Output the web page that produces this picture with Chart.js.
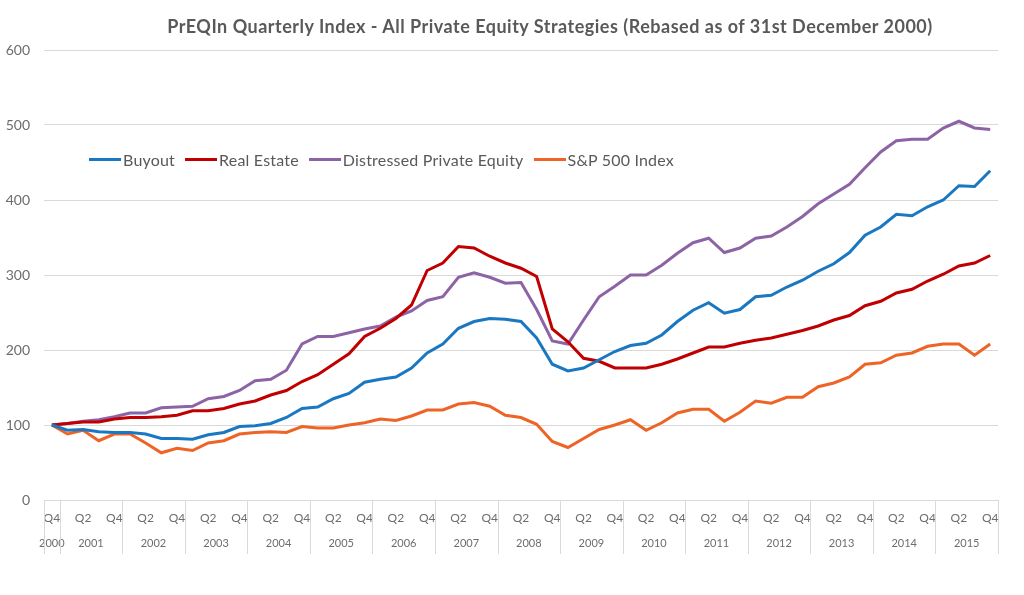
<!DOCTYPE html>
<html>
<head>
<meta charset="utf-8">
<script src="https://cdn.jsdelivr.net/npm/chart.js@4.4.1/dist/chart.umd.min.js"></script>
<style>
  body { margin: 0; background: #fff; }
  #wrap { position: relative; width: 1024px; height: 595px; font-family: Lato, sans-serif; }
  #title { position: absolute; left: 0; width: 1100px; top: 15px; text-align: center;
           font-weight: bold; font-size: 18px; letter-spacing: 0.5px; color: #595959; }
  #legend { position: absolute; left: 89px; top: 150px; display: flex; align-items: center;
            font-size: 16px; letter-spacing: 0.2px; color: #595959; }
  #legend span.item { display: flex; align-items: center; margin-right: 10px; }
  #legend i { display: inline-block; width: 32px; height: 3px; margin-right: 2px; }
</style>
</head>
<body>
<div id="wrap">
  <canvas id="chart" width="1024" height="595"></canvas>
  <div id="title">PrEQIn Quarterly Index - All Private Equity Strategies (Rebased as of 31st December 2000)</div>
  <div id="legend"></div>
</div>
<script>
// quarters Q4 2000 .. Q4 2015
const years = ['2000', '2001', '2002', '2003', '2004', '2005', '2006', '2007',
               '2008', '2009', '2010', '2011', '2012', '2013', '2014', '2015'];
const quarterNames = ['Q1', 'Q2', 'Q3', 'Q4'];
const yTicks = [0, 100, 200, 300, 400, 500, 600];

const buyout = [100, 93, 94, 91, 90, 90, 88, 82, 82, 81, 87, 90, 98, 99, 102, 110, 122, 124, 135, 142,
  157, 161, 164, 176, 196, 208, 229, 238, 242, 241, 238, 216, 181, 172, 176, 187, 198, 206, 209, 220,
  238, 253, 263, 249, 254, 271, 273, 284, 293, 305, 315, 330, 353, 364, 381, 379, 391, 400, 419, 418, 439];
const realEstate = [100, 102, 104, 104, 108, 110, 110, 111, 113, 119, 119, 122, 128, 132, 140, 146, 158, 167, 181, 195,
  218, 229, 242, 260, 306, 316, 338, 336, 325, 316, 309, 298, 228, 211, 189, 185, 176, 176, 176, 181,
  188, 196, 204, 204, 209, 213, 216, 221, 226, 232, 240, 246, 259, 265, 276, 281, 292, 301, 312, 316, 326];
const distressed = [100, 102, 105, 107, 111, 116, 116, 123, 124, 125, 135, 138, 146, 159, 161, 173, 208, 218, 218, 223,
  228, 232, 244, 252, 266, 271, 297, 303, 297, 289, 290, 254, 212, 208, 240, 271, 285, 300, 300, 313,
  329, 343, 349, 330, 336, 349, 352, 364, 378, 395, 408, 421, 443, 464, 479, 481, 481, 496, 505, 496, 494];
const sp500 = [100, 88, 93, 79, 88, 88, 76, 63, 69, 66, 76, 79, 88, 90, 91, 90, 98, 96, 96, 100,
  103, 108, 106, 112, 120, 120, 128, 130, 125, 113, 110, 101, 78, 70, 82, 94, 100, 107, 93, 103,
  116, 121, 121, 105, 117, 132, 129, 137, 137, 151, 156, 164, 181, 183, 193, 196, 205, 208, 208, 193, 208];

const labels = ['Q4 2000'];
years.slice(1).forEach(y => quarterNames.forEach(q => labels.push(q + ' ' + y)));

const series = [
  { label: 'Buyout', data: buyout, color: '#1a78c2' },
  { label: 'Real Estate', data: realEstate, color: '#c00000' },
  { label: 'Distressed Private Equity', data: distressed, color: '#8c64a6' },
  { label: 'S&P 500 Index', data: sp500, color: '#ee6427' }
];

// year groups: first is the single Q4 2000, then 4 quarters each
const yearCenters = years.map((y, k) => k === 0 ? 0 : 4 * k - 1.5);
const yearBounds = [-0.5].concat(years.map((y, k) => 4 * k + 0.5));

const yearLines = {
  id: 'yearLines',
  afterDraw(chart) {
    const x2 = chart.scales.x2, ctx = chart.ctx;
    ctx.save();
    ctx.strokeStyle = '#d9d9d9';
    ctx.lineWidth = 1;
    yearBounds.forEach(b => {
      const px = Math.round(x2.getPixelForValue(b)) + 0.5;
      ctx.beginPath();
      ctx.moveTo(px, chart.chartArea.bottom);
      ctx.lineTo(px, x2.bottom);
      ctx.stroke();
    });
    ctx.restore();
  }
};

Chart.defaults.font.family = 'Lato, sans-serif';
Chart.defaults.color = '#6d6d6d';

new Chart(document.getElementById('chart'), {
  type: 'line',
  data: {
    labels: labels,
    datasets: series.map(s => ({
      label: s.label,
      data: s.data,
      borderColor: s.color,
      backgroundColor: s.color,
      borderWidth: 3,
      pointRadius: 0,
      tension: 0,
      fill: false
    }))
  },
  options: {
    responsive: false,
    animation: false,
    layout: { padding: { top: 50, right: 26, bottom: 41, left: 0 } },
    plugins: {
      legend: { display: false },
      title: { display: false },
      tooltip: { enabled: false }
    },
    scales: {
      y: {
        min: 0, max: 600,
        afterBuildTicks: s => { s.ticks = yTicks.map(v => ({ value: v })); },
        afterFit: s => { s.width = 44; },
        grid: { color: '#d9d9d9', lineWidth: 1, drawTicks: false },
        border: { display: false },
        ticks: { padding: 14, font: { size: 14 } }
      },
      x: {
        type: 'category',
        offset: true,
        weight: 0,
        afterFit: s => { s.height = 26; },
        grid: { display: false, drawTicks: false },
        border: { display: false },
        ticks: {
          autoSkip: false, maxRotation: 0, minRotation: 0, padding: 11,
          font: { size: 12 },
          callback: function (v, i) {
            const q = labels[i].slice(0, 2);
            return (q === 'Q2' || q === 'Q4') ? q : '';
          }
        }
      },
      x2: {
        type: 'linear',
        position: 'bottom',
        weight: 1,
        min: -0.5, max: 60.5,
        afterBuildTicks: s => { s.ticks = yearCenters.map(v => ({ value: v })); },
        afterFit: s => { s.height = 28; },
        grid: { display: false, drawTicks: false },
        border: { display: false },
        ticks: {
          autoSkip: false, maxRotation: 0, minRotation: 0, padding: 11,
          font: { size: 11 },
          callback: (v, i) => years[i]
        }
      }
    }
  },
  plugins: [yearLines]
});

const legend = document.getElementById('legend');
series.forEach(s => {
  const item = document.createElement('span');
  item.className = 'item';
  const sw = document.createElement('i');
  sw.style.background = s.color;
  item.appendChild(sw);
  item.appendChild(document.createTextNode(s.label));
  legend.appendChild(item);
});
</script>
</body>
</html>
